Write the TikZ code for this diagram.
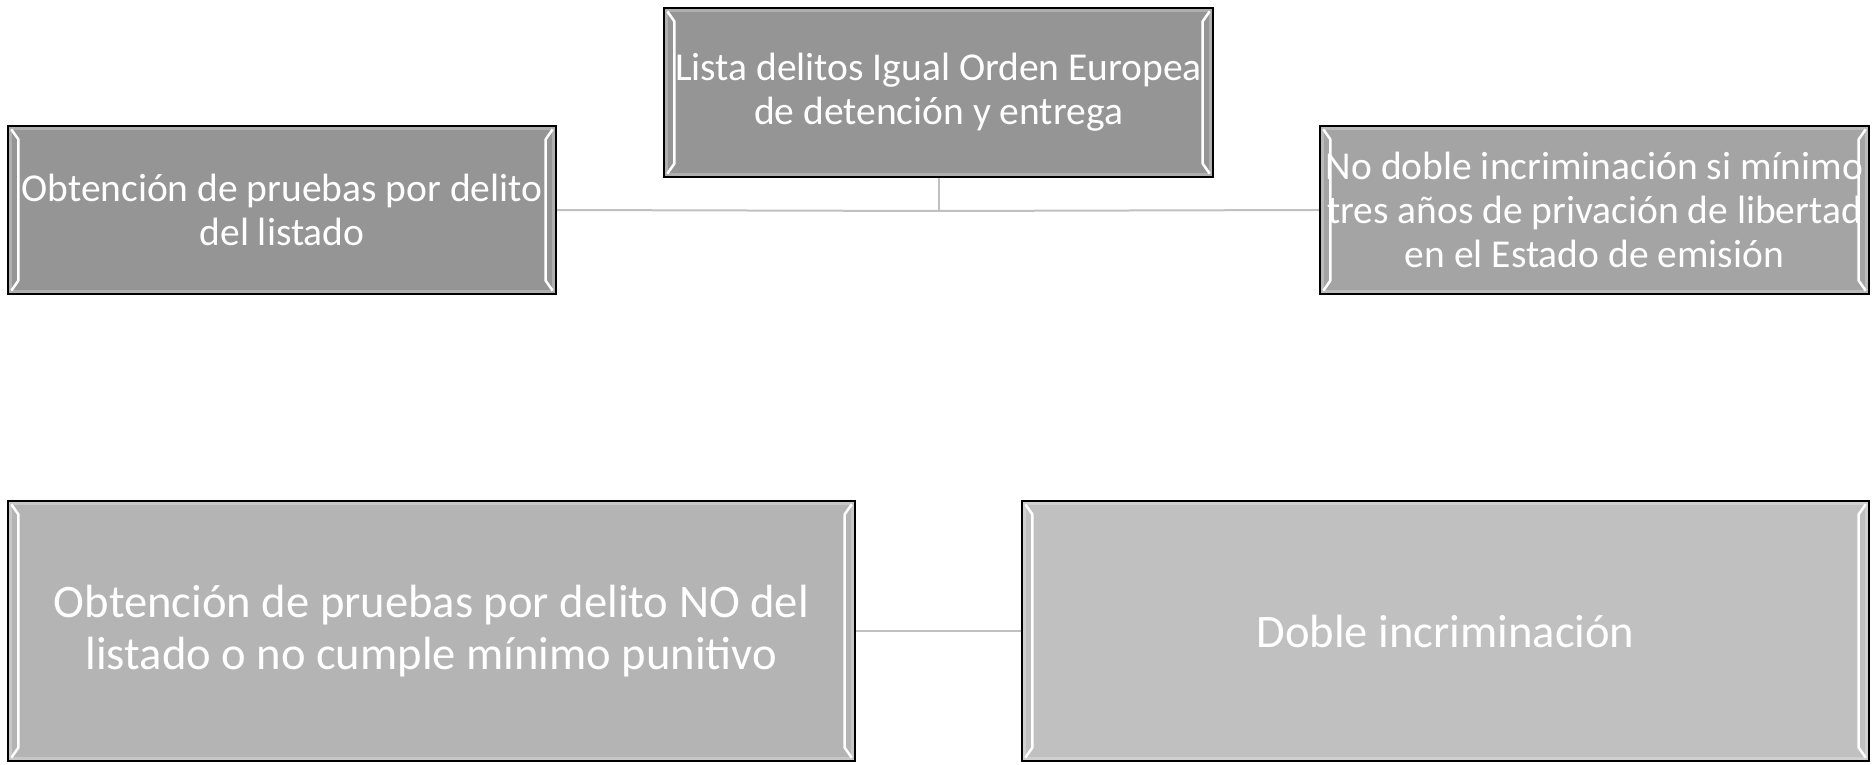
\documentclass[tikz,border=0pt]{standalone}
\usepackage{fontspec}
\setmainfont{Carlito}
\usetikzlibrary{calc}
\definecolor{fillA}{HTML}{959595}
\definecolor{fillB}{HTML}{A4A4A4}
\definecolor{fillC}{HTML}{B4B4B4}
\definecolor{fillD}{HTML}{C0C0C0}
\definecolor{linkgray}{HTML}{C0C0C0}
\tikzset{
  box/.style={draw=black, line width=1.4pt, rectangle, inner sep=0pt, text=white, align=center},
  smallfont/.style={font=\fontsize{39.5}{44}\selectfont},
  bigfont/.style={font=\fontsize{46.6}{51.5}\selectfont},
  link/.style={draw=linkgray, line width=2pt},
}
\newcommand\bevelbox[2]{%
  \draw[#2!75!white, line width=3pt]
    ($(#1.north west)+(3,3)$) rectangle ($(#1.south east)+(-3,-3)$);
  \draw[white, line width=2.5pt, line join=round]
    ($(#1.north west)+(4,4)$) -- ($(#1.north west)+(11,14)$) -- ($(#1.south west)+(11,-14)$) -- ($(#1.south west)+(4,-4)$);
  \draw[white, line width=2.5pt, line join=round]
    ($(#1.north east)+(-4,4)$) -- ($(#1.north east)+(-11,14)$) -- ($(#1.south east)+(-11,-14)$) -- ($(#1.south east)+(-4,-4)$);
  \draw[black, line width=1.4pt] (#1.north west) rectangle (#1.south east);
}
\begin{document}
\begin{tikzpicture}[x=1pt,y=-1pt]
\useasboundingbox (0,0) rectangle (1876,765);
\coordinate (junction) at (938.5,211);
\node[box, fill=fillA, minimum width=549pt, minimum height=169pt] (top) at (938.5,92.5) {};
\node[box, fill=fillA, minimum width=548pt, minimum height=168pt] (left) at (282,210) {};
\node[box, fill=fillB, minimum width=549pt, minimum height=168pt] (right) at (1594.5,210) {};
\node[box, fill=fillC, minimum width=847pt, minimum height=260pt] (bl) at (431.5,631) {};
\node[box, fill=fillD, minimum width=847pt, minimum height=260pt] (br) at (1445.5,631) {};
\draw[link] (top.south) -- (junction);
\draw[link] (left.east) -- (junction) -- (right.west);
\draw[link] (bl.east) -- (br.west);
\bevelbox{top}{fillA}
\bevelbox{left}{fillA}
\bevelbox{right}{fillB}
\bevelbox{bl}{fillC}
\bevelbox{br}{fillD}
\node[smallfont, text=white, align=center] (toptext) at (top.center) {Lista delitos Igual Orden Europea\\de detención y entrega};
\node[smallfont, text=white, align=center] (lefttext) at (left.center) {Obtención de pruebas por delito\\del listado};
\node[smallfont, text=white, align=center] (righttext) at (right.center) {No doble incriminación si mínimo\\tres años de privación de libertad\\en el Estado de emisión};
\node[bigfont, text=white, align=center] (bltext) at (bl.center) {Obtención de pruebas por delito NO del\\listado o no cumple mínimo punitivo};
\node[bigfont, text=white, align=center] (brtext) at (br.center) {Doble incriminación};
\end{tikzpicture}
\end{document}
